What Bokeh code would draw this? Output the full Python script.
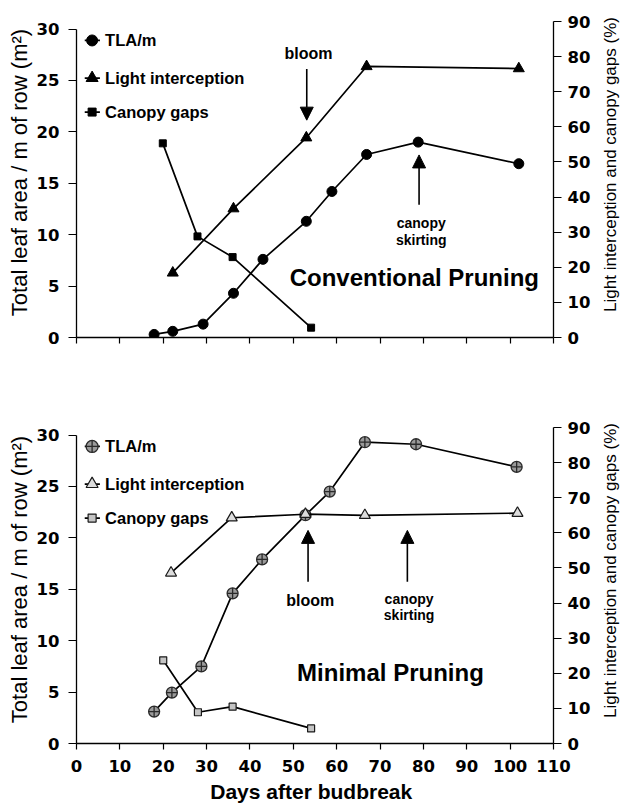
import math
from bokeh.plotting import figure
from bokeh.models import Range1d, LinearAxis, FixedTicker, Arrow, NormalHead
from bokeh.layouts import column, row
from bokeh.embed import file_html
from bokeh.resources import INLINE
from bokeh.core.properties import value

# ---------------- data ----------------
x_ticks = [0, 10, 20, 30, 40, 50, 60, 70, 80, 90, 100, 110]
left_ticks = [0, 5, 10, 15, 20, 25, 30]
right_ticks = [0, 10, 20, 30, 40, 50, 60, 70, 80, 90]

legend_labels = ["TLA/m", "Light interception", "Canopy gaps"]
left_title = "Total leaf area / m of row (m²)"
right_title = "Light interception and canopy gaps (%)"
x_title = "Days after budbreak"

# Conventional pruning
conv_tla_days = [17.9, 22.2, 29.2, 36.2, 43.0, 53.0, 58.9, 66.9, 78.8, 102.0]
conv_tla = [0.3, 0.6, 1.3, 4.3, 7.6, 11.3, 14.2, 17.8, 19.0, 16.9]
conv_light_days = [22.2, 36.2, 53.0, 66.9, 102.0]
conv_light = [18.4, 36.7, 56.9, 77.2, 76.6]
conv_gap_days = [19.9, 27.9, 36.0, 54.1]
conv_gap = [55.3, 28.8, 22.9, 2.8]

# Minimal pruning
min_tla_days = [17.9, 22.0, 28.8, 36.0, 42.8, 52.8, 58.4, 66.5, 78.3, 101.5]
min_tla = [3.1, 4.95, 7.5, 14.6, 17.9, 22.2, 24.5, 29.3, 29.1, 26.9]
min_light_days = [21.8, 35.8, 52.8, 66.5, 101.7]
min_light = [48.6, 64.3, 65.3, 65.0, 65.6]
min_gap_days = [20.0, 28.0, 36.0, 54.1]
min_gap = [23.7, 8.9, 10.5, 4.3]

# annotations (days, right-axis %)
conv_notes = ["bloom", "canopy", "skirting"]
conv_note_x = [53.5, 79.5, 79.5]
conv_note_y = [80.8, 32.6, 27.9]
conv_arrows_x = [53.1, 79.0]
conv_arrows_from = [76.5, 37.8]
conv_arrows_to = [61.9, 52.0]
conv_title = "Conventional Pruning"
conv_title_xy = (77.9, 17.2)

min_notes = ["bloom", "canopy", "skirting"]
min_note_x = [53.9, 76.7, 76.7]
min_note_y = [40.7, 41.1, 36.6]
min_arrows_x = [53.4, 76.3]
min_arrows_from = [46.1, 46.1]
min_arrows_to = [60.7, 60.7]
min_title = "Minimal Pruning"
min_title_xy = (72.4, 20.3)

# ---------------- layout constants (page pixels) ----------------
PAGE_W, PAGE_H = 620, 805
LEFT_W, RIGHT_W = 33, 20
MAIN_W = PAGE_W - LEFT_W - RIGHT_W
FRAME_LEFT = 73 - LEFT_W
TOP_H, BOT_H = 380, 397
XLAB_H = PAGE_H - TOP_H - BOT_H

TICK_FONT = "DejaVu Sans"
TEXT_FONT = "Liberation Sans"
LEFT_MAX = 30 * 316.0 / 308.5

LEG_LINE = (1.9, 5.4)
LEG_MX = 3.6
LEG_TX = 6.6
LEG_Y = [84.6, 73.9, 64.2]

LEFT_TITLE_X, LEFT_TITLE_Y = 19, [172, 579]
RIGHT_TITLE_X, RIGHT_TITLE_Y = 610, [164, 570]
X_TITLE_X, X_TITLE_Y = 312, 791


def bare_fig(w, h, x0, x1, y0, y1):
    f = figure(width=w, height=h, output_backend="svg", toolbar_location=None,
               x_range=Range1d(x0, x1), y_range=Range1d(y0, y1),
               x_axis_type=None, y_axis_type=None, min_border=0)
    f.outline_line_color = None
    f.xgrid.visible = False
    f.ygrid.visible = False
    return f


def make_panel(series, styles, notes, note_x, note_y, ax, a_from, a_to,
               title, title_xy, show_xlabels, height, top_border, bottom_border):
    p = figure(width=MAIN_W, height=height, output_backend="svg", toolbar_location=None,
               x_range=Range1d(0, 110), y_range=Range1d(0, LEFT_MAX),
               min_border_left=FRAME_LEFT, min_border_right=MAIN_W - FRAME_LEFT - 480,
               min_border_top=top_border, min_border_bottom=bottom_border)
    p.extra_y_ranges = {"right": Range1d(0, 90)}
    p.outline_line_color = None
    p.xgrid.visible = False
    p.ygrid.visible = False
    p.background_fill_color = "white"
    p.border_fill_color = "white"

    # x axis
    xa = p.xaxis[0]
    xa.ticker = FixedTicker(ticks=x_ticks)
    xa.axis_line_width = 1.6
    xa.axis_line_color = "black"
    xa.major_tick_in = 0
    xa.major_tick_out = 6
    xa.major_tick_line_width = 1.2
    xa.minor_tick_line_color = None
    xa.major_label_text_font = TICK_FONT
    xa.major_label_text_font_style = "bold"
    xa.major_label_text_color = "black"
    xa.major_label_text_font_size = "16.5px"
    xa.major_label_standoff = 10
    if not show_xlabels:
        xa.major_label_overrides = {t: "" for t in x_ticks}

    # left axis
    ya = p.yaxis[0]
    ya.ticker = FixedTicker(ticks=left_ticks)
    ya.bounds = (0, 30)
    ya.axis_line_width = 1.3
    ya.major_tick_in = 0
    ya.major_tick_out = 8
    ya.minor_tick_line_color = None
    ya.major_label_text_font = TICK_FONT
    ya.major_label_text_font_style = "bold"
    ya.major_label_text_font_size = "16.5px"
    ya.major_label_standoff = 9
    ya.major_label_text_color = "black"

    # right axis
    ra = LinearAxis(y_range_name="right", ticker=FixedTicker(ticks=right_ticks))
    ra.axis_line_width = 1.3
    ra.major_tick_in = 0
    ra.major_tick_out = 8
    ra.minor_tick_line_color = None
    ra.major_label_text_font = TICK_FONT
    ra.major_label_text_font_style = "bold"
    ra.major_label_text_font_size = "16.5px"
    ra.major_label_standoff = 6
    ra.major_label_text_color = "black"
    p.add_layout(ra, "right")

    # series
    for (xs, ys, rng), st in zip(series, styles):
        kw = {} if rng is None else {"y_range_name": rng}
        p.line(xs, ys, line_color="black", line_width=1.7, **kw)
        p.scatter(xs, ys, marker=st["marker"], size=st["size"], fill_color=st["fill"],
                  line_color=st["line"], line_width=st["lw"], **kw)

    # legend (manual)
    for lab, yy, st in zip(legend_labels, LEG_Y, styles):
        p.line(list(LEG_LINE), [yy, yy], line_color="black", line_width=1.7, y_range_name="right")
        p.scatter([LEG_MX], [yy], marker=st["marker"], size=st["size"] + 1, fill_color=st["fill"],
                  line_color=st["line"], line_width=st["lw"], y_range_name="right")
    p.text(x=[LEG_TX] * 3, y=LEG_Y, text=legend_labels, y_range_name="right",
           text_font=value(TEXT_FONT), text_font_style="bold", text_font_size="16.5px",
           text_align="left", text_baseline="middle", text_color="black")

    # notes
    p.text(x=note_x[:1], y=note_y[:1], text=notes[:1], y_range_name="right",
           text_font=value(TEXT_FONT), text_font_style="bold", text_font_size="16px",
           text_align="center", text_baseline="middle", text_color="black")
    p.text(x=note_x[1:], y=note_y[1:], text=notes[1:], y_range_name="right",
           text_font=value(TEXT_FONT), text_font_style="bold", text_font_size="14px",
           text_align="center", text_baseline="middle", text_color="black")
    for xx, y0, y1 in zip(ax, a_from, a_to):
        p.add_layout(Arrow(end=NormalHead(size=13, fill_color="black", line_color="black"),
                           x_start=xx, y_start=y0, x_end=xx, y_end=y1,
                           line_width=1.6, line_color="black", y_range_name="right"))
    p.text(x=[title_xy[0]], y=[title_xy[1]], text=[title], y_range_name="right",
           text_font=value(TEXT_FONT), text_font_style="bold", text_font_size="24px",
           text_align="center", text_baseline="middle", text_color="black")
    return p


conv_styles = [
    dict(marker="circle", size=10, fill="black", line="black", lw=1),
    dict(marker="triangle", size=11, fill="black", line="black", lw=1),
    dict(marker="square", size=7, fill="black", line="black", lw=1),
]
min_styles = [
    dict(marker="circle_cross", size=11, fill="#9a9a9a", line="#2a2a2a", lw=1.3),
    dict(marker="triangle", size=11, fill="#dcdcdc", line="#1a1a1a", lw=1.2),
    dict(marker="square", size=7, fill="#c4c4c4", line="#1a1a1a", lw=1.2),
]

top = make_panel(
    [(conv_tla_days, conv_tla, None), (conv_light_days, conv_light, "right"),
     (conv_gap_days, conv_gap, "right")],
    conv_styles, conv_notes, conv_note_x, conv_note_y,
    conv_arrows_x, conv_arrows_from, conv_arrows_to, conv_title, conv_title_xy,
    False, TOP_H, 21, 43)

bottom = make_panel(
    [(min_tla_days, min_tla, None), (min_light_days, min_light, "right"),
     (min_gap_days, min_gap, "right")],
    min_styles, min_notes, min_note_x, min_note_y,
    min_arrows_x, min_arrows_from, min_arrows_to, min_title, min_title_xy,
    True, BOT_H, 47, BOT_H - 47 - 316)

# side / bottom title strips (coordinates are page pixels, y measured upward)
left_fig = bare_fig(LEFT_W, PAGE_H, 0, LEFT_W, 0, PAGE_H)
left_fig.text(x=[LEFT_TITLE_X] * 2, y=[PAGE_H - v for v in LEFT_TITLE_Y],
              text=[left_title] * 2, angle=math.pi / 2,
              text_font=value(TEXT_FONT), text_font_size="22px",
              text_align="center", text_baseline="middle", text_color="black")

right_fig = bare_fig(RIGHT_W, PAGE_H, PAGE_W - RIGHT_W, PAGE_W, 0, PAGE_H)
right_fig.text(x=[RIGHT_TITLE_X] * 2, y=[PAGE_H - v for v in RIGHT_TITLE_Y],
               text=[right_title] * 2, angle=math.pi / 2,
               text_font=value(TEXT_FONT), text_font_size="17px",
               text_align="center", text_baseline="middle", text_color="black")

xlab_fig = bare_fig(MAIN_W, XLAB_H, LEFT_W, LEFT_W + MAIN_W, 0, XLAB_H)
xlab_fig.text(x=[X_TITLE_X], y=[PAGE_H - X_TITLE_Y], text=[x_title],
              text_font=value(TEXT_FONT), text_font_style="bold", text_font_size="21px",
              text_align="center", text_baseline="middle", text_color="black")

layout = row(left_fig, column(top, bottom, xlab_fig, spacing=0), right_fig, spacing=0)
open("out.html", "w").write(file_html(layout, INLINE))
